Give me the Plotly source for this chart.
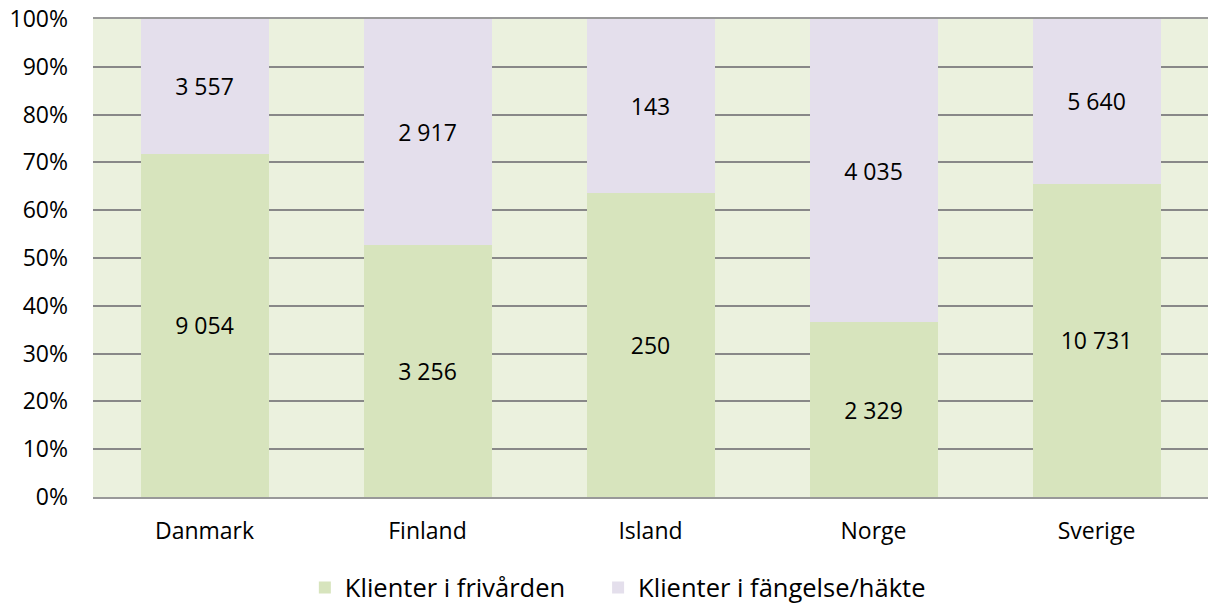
import plotly.graph_objects as go

countries = ["Danmark", "Finland", "Island", "Norge", "Sverige"]
frivard = [9054, 3256, 250, 2329, 10731]
fangelse = [3557, 2917, 143, 4035, 5640]
series_names = ["Klienter i frivården", "Klienter i fängelse/häkte"]
y_ticks = [0, 10, 20, 30, 40, 50, 60, 70, 80, 90, 100]
y_tick_labels = [f"{t}%" for t in y_ticks]

def fmt(v):
    return f"{v:,}".replace(",", " ")

FONT = "Open Sans"
fig = go.Figure()
fig.add_trace(go.Bar(
    x=countries, y=frivard, name=series_names[0], legend="legend",
    marker=dict(color="#D7E4BD", line=dict(width=0)),
    text=[fmt(v) for v in frivard], textposition="inside",
    insidetextanchor="middle", constraintext="none",
    textfont=dict(family=FONT, size=23, color="#000000"),
))
fig.add_trace(go.Bar(
    x=countries, y=fangelse, name=series_names[1], legend="legend2",
    marker=dict(color="#E4DFEC", line=dict(width=0)),
    text=[fmt(v) for v in fangelse], textposition="inside",
    insidetextanchor="middle", constraintext="none",
    textfont=dict(family=FONT, size=23, color="#000000"),
))
legend_common = dict(orientation="h", y=-0.19, yanchor="middle", xanchor="left",
                     font=dict(family=FONT, size=25.5, color="#000000"),
                     itemwidth=30, bgcolor="rgba(0,0,0,0)")
fig.update_layout(
    barmode="stack", barnorm="percent", bargap=0.426,
    width=1209, height=603,
    margin=dict(l=93, r=1, t=19, b=106, autoexpand=False),
    paper_bgcolor="#FFFFFF", plot_bgcolor="#EBF1DE",
    font=dict(family=FONT, size=23, color="#000000"),
    showlegend=True,
    legend=dict(x=0.190, **legend_common),
    legend2=dict(x=0.453, **legend_common),
)
fig.update_yaxes(
    range=[0, 100], tickmode="array", tickvals=y_ticks, ticktext=y_tick_labels,
    showgrid=True, gridcolor="#888888", gridwidth=2,
    zeroline=False, showline=False, ticks="",
    ticklabelstandoff=24, automargin=False, ticklabeloverflow="allow",
    tickfont=dict(family=FONT, size=23, color="#000000"),
)
fig.update_xaxes(
    showgrid=False, showline=True, mirror=True, linecolor="#999999", linewidth=2,
    ticks="", ticklabelstandoff=12, automargin=False,
    tickfont=dict(family=FONT, size=23, color="#000000"),
)
fig.write_html("out.html", config={"displayModeBar": False},
               post_script="document.body.style.margin='0';document.body.style.overflow='hidden';")
